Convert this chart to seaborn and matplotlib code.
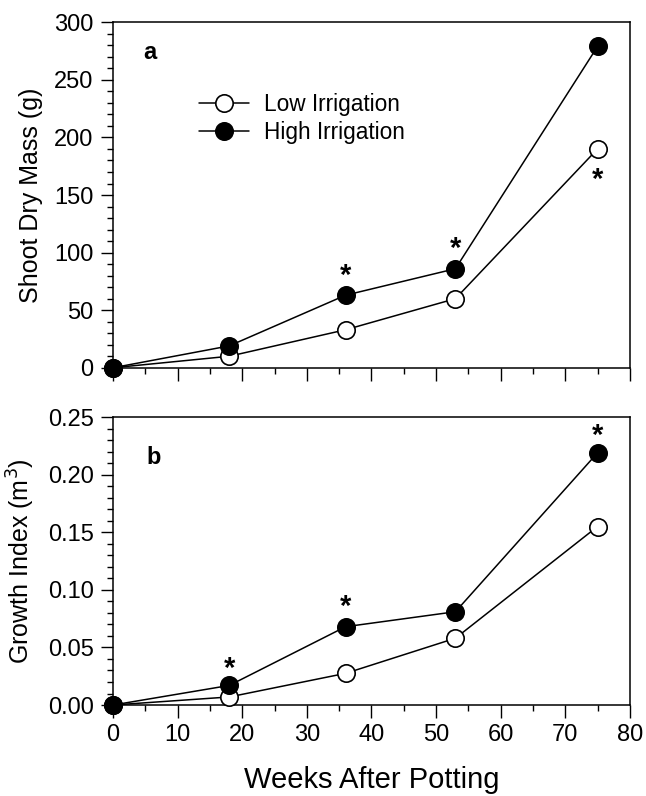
import matplotlib
matplotlib.use("Agg")
import matplotlib.pyplot as plt
from matplotlib.ticker import MultipleLocator, FormatStrFormatter
import seaborn as sns
import pandas as pd
import numpy as np

weeks = [0, 18, 36, 53, 75]
mass_low = [0, 10, 33, 60, 190]
mass_high = [0, 19, 63, 86, 279]
gi_low = [0.0, 0.007, 0.0275, 0.058, 0.155]
gi_high = [0.0, 0.017, 0.068, 0.081, 0.219]
series_names = ["Low Irrigation", "High Irrigation"]

# significance asterisks (x, y in data units of each panel)
stars_a_x = [36, 53, 75]
stars_a_y = [80, 103, 163]
stars_b_x = [18, 36, 75]
stars_b_y = [0.031, 0.085, 0.234]

sns.set_theme(style="ticks")
plt.rcParams["font.family"] = ["Liberation Sans", "DejaVu Sans"]
plt.rcParams["text.color"] = "black"
plt.rcParams["axes.labelcolor"] = "black"
plt.rcParams["xtick.color"] = "black"
plt.rcParams["ytick.color"] = "black"
plt.rcParams["axes.linewidth"] = 1.1
plt.rcParams["xtick.major.width"] = 1.0
plt.rcParams["ytick.major.width"] = 1.0
plt.rcParams["xtick.minor.width"] = 1.0
plt.rcParams["ytick.minor.width"] = 1.0

fig = plt.figure(figsize=(6.46, 7.96), dpi=100)
ax1 = fig.add_axes([0.175, 0.538, 0.800, 0.434])
ax2 = fig.add_axes([0.175, 0.1143, 0.800, 0.3617])

df_a = pd.DataFrame({
    "weeks": weeks * 2,
    "value": mass_low + mass_high,
    "trt": [series_names[0]] * len(weeks) + [series_names[1]] * len(weeks),
})
df_b = pd.DataFrame({
    "weeks": weeks * 2,
    "value": gi_low + gi_high,
    "trt": [series_names[0]] * len(weeks) + [series_names[1]] * len(weeks),
})

face = {series_names[0]: "white", series_names[1]: "black"}

for ax, df in [(ax1, df_a), (ax2, df_b)]:
    for name in series_names:
        sub = df[df["trt"] == name]
        sns.lineplot(data=sub, x="weeks", y="value", ax=ax, color="black",
                     marker="o", markersize=12.5, markeredgecolor="black",
                     markeredgewidth=1.2, linewidth=1.1, label=name,
                     markerfacecolor=face[name], clip_on=False, zorder=3)
    ax.set_xlim(0, 80)
    ax.xaxis.set_major_locator(MultipleLocator(10))
    ax.xaxis.set_minor_locator(MultipleLocator(5))
    ax.tick_params(axis="both", which="major", direction="out", length=9,
                   labelsize=17, color="black", labelcolor="black", pad=5)
    ax.tick_params(axis="both", which="minor", direction="out", length=4.5,
                   color="black")
    ax.tick_params(top=False, right=False, which="both")
    for s in ax.spines.values():
        s.set_visible(True)
        s.set_color("black")

ax1.set_ylim(0, 300)
ax1.yaxis.set_major_locator(MultipleLocator(50))
ax1.yaxis.set_minor_locator(MultipleLocator(10))
ax1.set_xticklabels([])
ax1.set_xlabel("")
ax1.set_ylabel("Shoot Dry Mass (g)", fontsize=18, labelpad=8)

ax2.set_ylim(0, 0.25)
ax2.yaxis.set_major_locator(MultipleLocator(0.05))
ax2.yaxis.set_minor_locator(MultipleLocator(0.01))
ax2.yaxis.set_major_formatter(FormatStrFormatter("%.2f"))
ax2.set_xlabel("Weeks After Potting", fontsize=21, labelpad=14)
ax2.set_ylabel("Growth Index (m$^3$)", fontsize=18, labelpad=8)

# legend
leg = ax1.legend(loc="upper left", bbox_to_anchor=(0.166, 0.795), frameon=False,
                 fontsize=16.3, handlelength=2.2, handletextpad=0.7,
                 labelspacing=0.2, borderaxespad=0, borderpad=0)
if ax2.get_legend():
    ax2.get_legend().remove()

# panel letters
ax1.text(0.072, 0.912, "a", transform=ax1.transAxes, fontsize=17, fontweight="bold",
         va="center", ha="center")
ax2.text(0.078, 0.86, "b", transform=ax2.transAxes, fontsize=17, fontweight="bold",
         va="center", ha="center")

for x, y in zip(stars_a_x, stars_a_y):
    ax1.text(x, y, "*", fontsize=21, fontweight="bold", ha="center", va="center")
for x, y in zip(stars_b_x, stars_b_y):
    ax2.text(x, y, "*", fontsize=21, fontweight="bold", ha="center", va="center")

fig.savefig("out.png", dpi=100, facecolor="white")
